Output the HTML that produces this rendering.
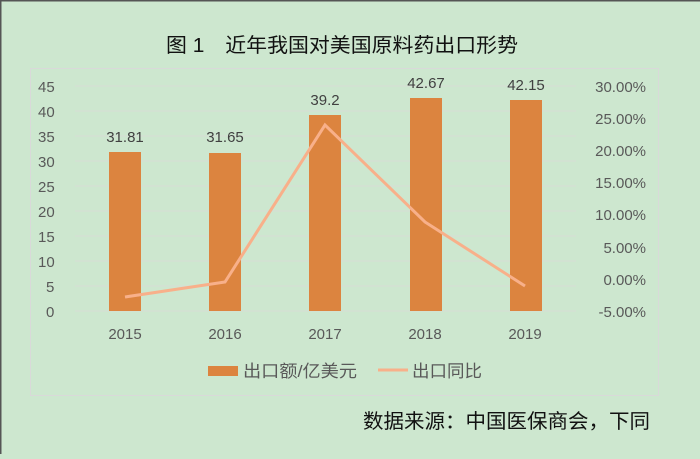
<!DOCTYPE html>
<html><head><meta charset="utf-8"><style>
body{margin:0;width:700px;height:454px;background:#cde7cf;overflow:hidden;font-family:"Liberation Sans","Noto Sans CJK SC",sans-serif}
</style></head><body>
<svg width="700" height="454" xmlns="http://www.w3.org/2000/svg" font-family="Liberation Sans, Noto Sans CJK SC, sans-serif">
<rect width="700" height="454" fill="#cde7cf"/>
<line x1="0" y1="0.5" x2="700" y2="0.5" stroke="#555" stroke-width="2"/>
<line x1="0.5" y1="0" x2="0.5" y2="454" stroke="#555" stroke-width="2"/>
<text x="166" y="52" font-size="20" fill="#111" textLength="352" lengthAdjust="spacingAndGlyphs">图 1　近年我国对美国原料药出口形势</text>
<rect x="30.5" y="68.5" width="628" height="327" fill="none" stroke="#d9d9d9"/>
<g stroke="#d6dcd6" stroke-width="1">
<line x1="75" y1="86" x2="576" y2="86"/><line x1="75" y1="111" x2="576" y2="111"/><line x1="75" y1="136" x2="576" y2="136"/><line x1="75" y1="161" x2="576" y2="161"/><line x1="75" y1="186" x2="576" y2="186"/><line x1="75" y1="211" x2="576" y2="211"/><line x1="75" y1="236" x2="576" y2="236"/><line x1="75" y1="261" x2="576" y2="261"/><line x1="75" y1="286" x2="576" y2="286"/><line x1="75" y1="311" x2="576" y2="311"/>
</g>
<g font-size="15" fill="#595959" text-anchor="start">
<text x="38" y="92">45</text><text x="38" y="117">40</text><text x="38" y="142">35</text><text x="38" y="167">30</text><text x="38" y="192">25</text><text x="38" y="217">20</text><text x="38" y="242">15</text><text x="38" y="267">10</text><text x="46" y="292">5</text><text x="46" y="317">0</text>
</g>
<g font-size="15" fill="#595959" text-anchor="end">
<text x="646" y="92">30.00%</text><text x="646" y="124">25.00%</text><text x="646" y="156">20.00%</text><text x="646" y="188">15.00%</text><text x="646" y="220">10.00%</text><text x="646" y="253">5.00%</text><text x="646" y="285">0.00%</text><text x="646" y="317">-5.00%</text>
</g>
<g fill="#dc843f">
<rect x="109" y="152" width="32" height="159"/><rect x="209" y="153" width="32" height="158"/><rect x="309" y="115" width="32" height="196"/><rect x="410" y="98" width="32" height="213"/><rect x="510" y="100" width="32" height="211"/>
</g>
<g font-size="15" fill="#404040" text-anchor="middle">
<text x="125" y="142">31.81</text><text x="225" y="142">31.65</text><text x="325" y="105">39.2</text><text x="426" y="88">42.67</text><text x="526" y="90">42.15</text>
</g>
<polyline points="125,297 225,282 325,125 425,222 525,286" fill="none" stroke="#f8b08a" stroke-width="3"/>
<g font-size="15" fill="#595959" text-anchor="middle">
<text x="125" y="339">2015</text><text x="225" y="339">2016</text><text x="325" y="339">2017</text><text x="425" y="339">2018</text><text x="525" y="339">2019</text>
</g>
<rect x="208" y="366" width="30" height="10" fill="#dc843f"/>
<text x="243" y="377" font-size="17" fill="#595959" textLength="114" lengthAdjust="spacingAndGlyphs">出口额/亿美元</text>
<line x1="378" y1="370" x2="408" y2="370" stroke="#f8b08a" stroke-width="3"/>
<text x="412" y="377" font-size="17" fill="#595959" textLength="70" lengthAdjust="spacingAndGlyphs">出口同比</text>
<text x="363" y="428" font-size="20" fill="#111" textLength="287" lengthAdjust="spacingAndGlyphs">数据来源：中国医保商会，下同</text>
</svg>
</body></html>
